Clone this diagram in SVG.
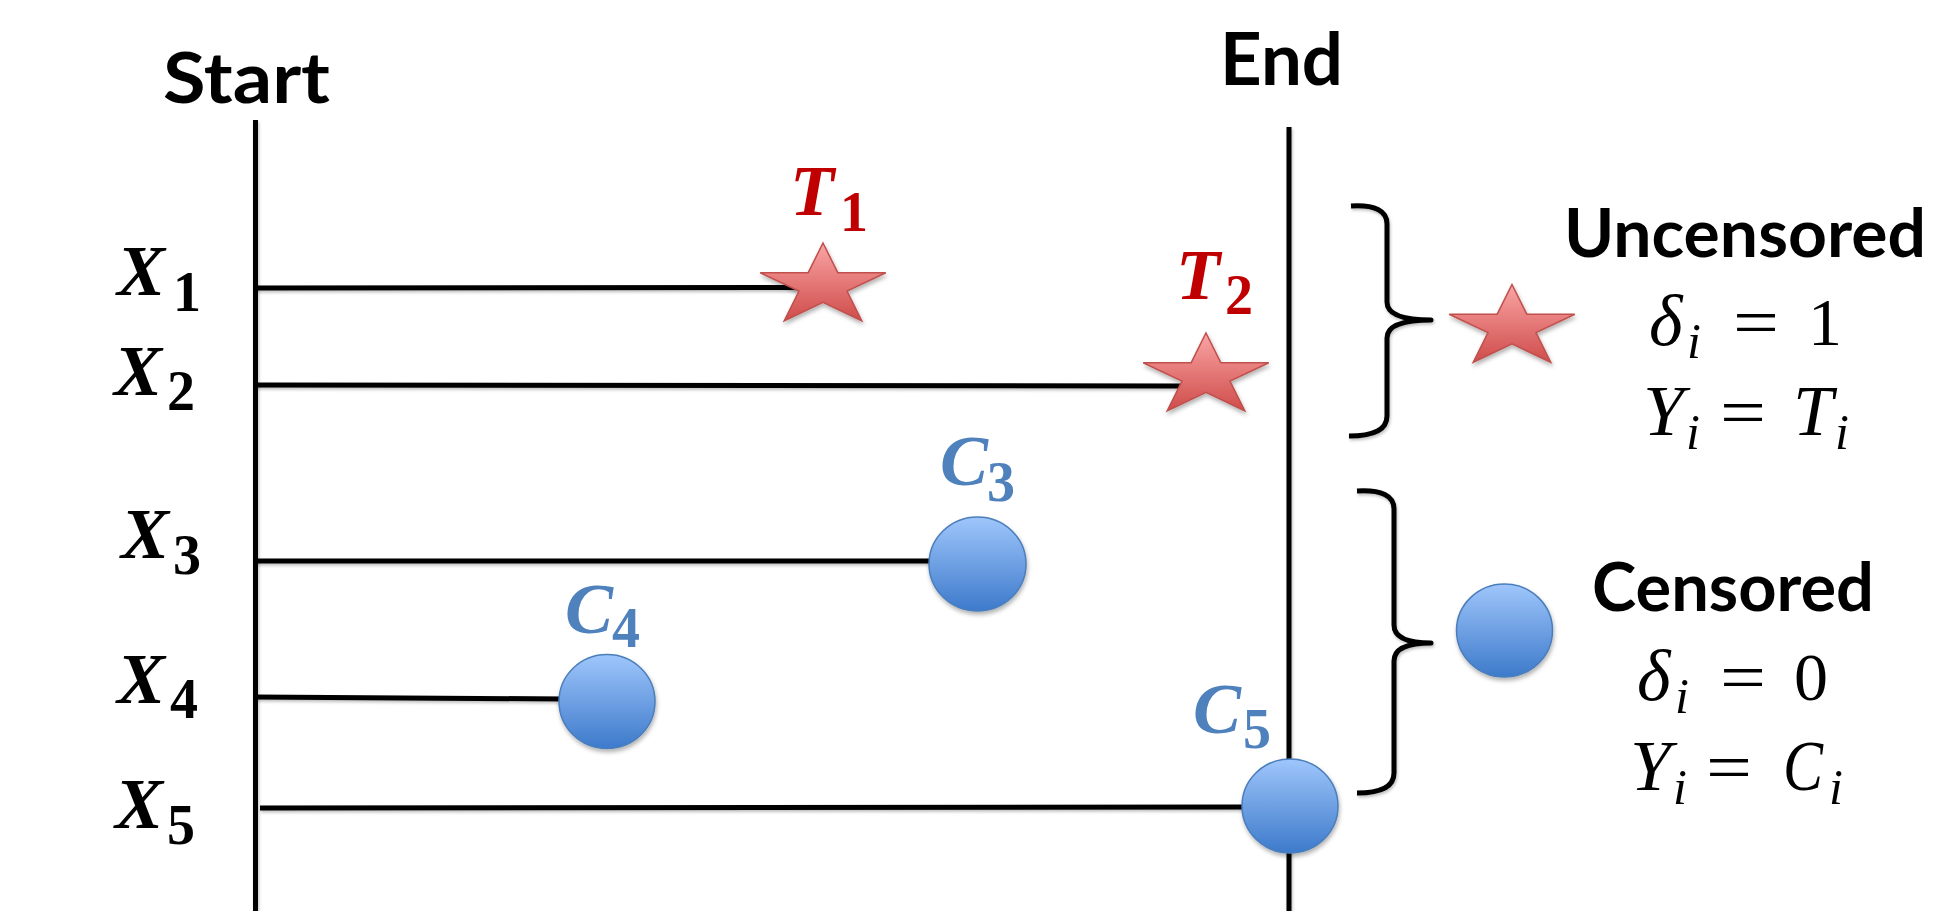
<svg xmlns="http://www.w3.org/2000/svg" width="1937" height="911" viewBox="0 0 1937 911">
<style>
  .ttl { font-family: Lato, "Liberation Sans", sans-serif; font-weight: bold; fill: #000; }
  .mb { font-family: "Liberation Serif", serif; font-weight: bold; font-style: italic; font-size: 72px; }
  .sb { font-family: "Liberation Serif", serif; font-weight: bold; font-size: 56px; }
  .mi { font-family: "Liberation Serif", serif; font-style: italic; font-size: 72px; fill: #000; }
  .si { font-family: "Liberation Serif", serif; font-style: italic; font-size: 50px; fill: #000; }
  .mr { font-family: "Liberation Serif", serif; font-size: 68px; fill: #000; }
  .blk { fill: #000; }
  .red { fill: #c00000; }
  .blu { fill: #4f81bd; }
  .ln { stroke: #000; stroke-width: 5; fill: none; filter: url(#sh); }
  .br { stroke: #000; stroke-width: 5; fill: none; stroke-linejoin: round; filter: url(#sh); }
  .star { fill: url(#gs); stroke: #c0504d; stroke-width: 1.5; filter: url(#sh2); }
  .dot { fill: url(#gc); stroke: #4a7ebb; stroke-width: 1.5; filter: url(#sh2); }
</style>
<defs>
  <linearGradient id="gs" x1="0" y1="0" x2="0" y2="1">
    <stop offset="0" stop-color="#faa5a5"/>
    <stop offset="1" stop-color="#cf4d4b"/>
  </linearGradient>
  <linearGradient id="gc" x1="0" y1="0" x2="0" y2="1">
    <stop offset="0" stop-color="#9fc6fb"/>
    <stop offset="1" stop-color="#3d7acb"/>
  </linearGradient>
  <filter id="sh" filterUnits="userSpaceOnUse" x="0" y="0" width="1937" height="911">
    <feDropShadow dx="1" dy="2" stdDeviation="1.5" flood-color="#000" flood-opacity="0.25"/>
  </filter>
  <filter id="sh2" filterUnits="userSpaceOnUse" x="0" y="0" width="1937" height="911">
    <feDropShadow dx="1" dy="3" stdDeviation="2" flood-color="#000" flood-opacity="0.3"/>
  </filter>
</defs>
<rect width="1937" height="911" fill="#fff"/>

<g id="axes">
  <line class="ln" x1="255.5" y1="120" x2="255.5" y2="911"/>
  <line class="ln" x1="1289" y1="127" x2="1289" y2="911"/>
  <text class="ttl" x="163" y="103" font-size="70" textLength="167" lengthAdjust="spacingAndGlyphs">Start</text>
  <text class="ttl" x="1220" y="85" font-size="72" textLength="123" lengthAdjust="spacingAndGlyphs">End</text>
</g>

<g id="connectors">
  <line class="ln" x1="255" y1="288" x2="800" y2="287.5"/>
  <line class="ln" x1="255" y1="385" x2="1180" y2="386"/>
  <line class="ln" x1="255" y1="561" x2="935" y2="561"/>
  <line class="ln" x1="255" y1="697" x2="565" y2="699"/>
  <line class="ln" x1="260" y1="808" x2="1245" y2="807"/>
</g>

<g id="subject-labels">
  <text class="blk"><tspan class="mb" x="117" y="295">X</tspan><tspan class="sb" x="173" y="311">1</tspan></text>
  <text class="blk"><tspan class="mb" x="114" y="395">X</tspan><tspan class="sb" x="167" y="410">2</tspan></text>
  <text class="blk"><tspan class="mb" x="121" y="558">X</tspan><tspan class="sb" x="173" y="574">3</tspan></text>
  <text class="blk"><tspan class="mb" x="117" y="703">X</tspan><tspan class="sb" x="170" y="718">4</tspan></text>
  <text class="blk"><tspan class="mb" x="115" y="828">X</tspan><tspan class="sb" x="167" y="844">5</tspan></text>
</g>

<g id="T1">
  <polygon class="star" points="823,243 837.8,272.7 885.8,272.7 847,291.1 861.8,320.8 823,302.4 784.2,320.8 799,291.1 760.2,272.7 808.2,272.7"/>
  <text class="red"><tspan class="mb" x="790" y="215">T</tspan><tspan class="sb" x="840" y="231">1</tspan></text>
</g>
<g id="T2">
  <polygon class="star" points="1206,333 1220.8,362.7 1268.8,362.7 1230,381.1 1244.8,410.8 1206,392.4 1167.2,410.8 1182,381.1 1143.2,362.7 1191.2,362.7"/>
  <text class="red"><tspan class="mb" x="1176" y="299">T</tspan><tspan class="sb" x="1225" y="314">2</tspan></text>
</g>
<g id="C3">
  <ellipse class="dot" cx="977.5" cy="564" rx="48.5" ry="47"/>
  <text class="blu"><tspan class="mb" x="940" y="485">C</tspan><tspan class="sb" x="987" y="501">3</tspan></text>
</g>
<g id="C4">
  <ellipse class="dot" cx="607" cy="701.5" rx="48" ry="47"/>
  <text class="blu"><tspan class="mb" x="565" y="633">C</tspan><tspan class="sb" x="612" y="647">4</tspan></text>
</g>
<g id="C5">
  <ellipse class="dot" cx="1290" cy="806" rx="48" ry="47"/>
  <text class="blu"><tspan class="mb" x="1193" y="733">C</tspan><tspan class="sb" x="1243" y="748">5</tspan></text>
</g>

<g id="uncensored-legend">
  <path class="br" d="M1351,206 Q1387,204 1387,224 L1387,302 Q1387,320 1431,320 Q1387,320 1387,338 L1387,416 Q1387,436 1349,436"/>
  <polygon class="star" points="1512,284.5 1526.8,314.2 1574.8,314.2 1536,332.6 1550.8,362.3 1512,343.9 1473.2,362.3 1488,332.6 1449.2,314.2 1497.2,314.2"/>
  <text class="ttl" x="1564" y="257" font-size="67" textLength="362" lengthAdjust="spacingAndGlyphs">Uncensored</text>
  <text><tspan class="mi" x="1649" y="345">δ</tspan><tspan class="si" x="1687" y="358">i</tspan></text>
  <text class="mr" x="1733" y="345" textLength="46" lengthAdjust="spacingAndGlyphs">=</text>
  <text class="mr" x="1808" y="345">1</text>
  <text class="mi" x="1643" y="435" textLength="41" lengthAdjust="spacingAndGlyphs">Y</text>
  <text class="si" x="1686" y="449">i</text>
  <text class="mr" x="1720" y="435" textLength="46" lengthAdjust="spacingAndGlyphs">=</text>
  <text class="mi" x="1793" y="435" textLength="40" lengthAdjust="spacingAndGlyphs">T</text>
  <text class="si" x="1835" y="449">i</text>
</g>

<g id="censored-legend">
  <path class="br" d="M1357,491 Q1394,489 1394,509 L1394,625 Q1394,643 1431,643 Q1394,643 1394,661 L1394,773 Q1394,793 1357,793"/>
  <ellipse class="dot" cx="1504.5" cy="630.5" rx="48" ry="46.5"/>
  <text class="ttl" x="1592" y="611" font-size="67" textLength="282" lengthAdjust="spacingAndGlyphs">Censored</text>
  <text><tspan class="mi" x="1637" y="700">δ</tspan><tspan class="si" x="1675" y="713">i</tspan></text>
  <text class="mr" x="1720" y="700" textLength="46" lengthAdjust="spacingAndGlyphs">=</text>
  <text class="mr" x="1794" y="700">0</text>
  <text class="mi" x="1630" y="790" textLength="41" lengthAdjust="spacingAndGlyphs">Y</text>
  <text class="si" x="1673" y="804">i</text>
  <text class="mr" x="1706" y="790" textLength="46" lengthAdjust="spacingAndGlyphs">=</text>
  <text class="mi" x="1783" y="790" textLength="40" lengthAdjust="spacingAndGlyphs">C</text>
  <text class="si" x="1829" y="804">i</text>
</g>
</svg>
